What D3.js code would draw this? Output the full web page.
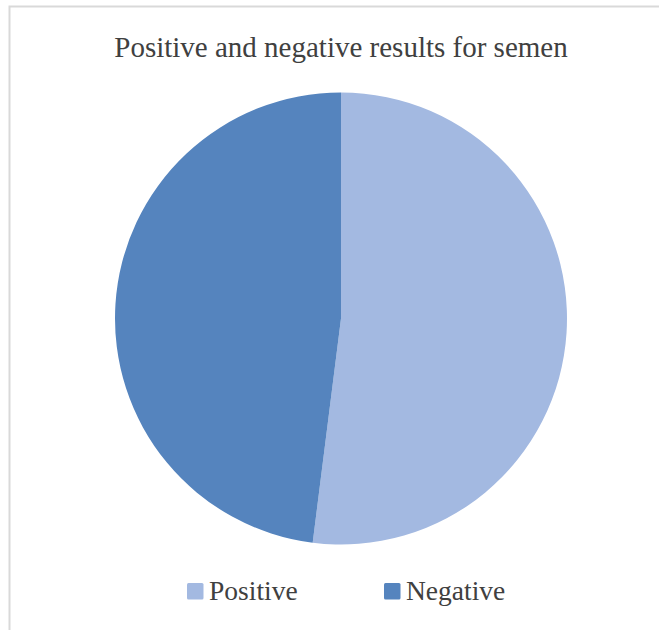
<!DOCTYPE html>
<html>
<head>
<meta charset="utf-8">
<script src="https://cdn.jsdelivr.net/npm/d3@7/dist/d3.min.js"></script>
<style>
  html, body { margin: 0; padding: 0; background: #fff; }
  svg { display: block; }
</style>
</head>
<body>
<script>
// Semen test outcomes
const categories = ["Positive", "Negative"];
const values = [52, 48];
const colors = ["#A3B9E1", "#5584BE"];
const title = "Positive and negative results for semen";

const W = 659, H = 630;
const svg = d3.select("body").append("svg")
  .attr("width", W).attr("height", H);

// chart area frame (right and bottom edges fall outside the view)
svg.append("rect")
  .attr("x", 9.5).attr("y", 6.5)
  .attr("width", W + 20).attr("height", H + 20)
  .attr("fill", "#fff")
  .attr("stroke", "#d9d9d9").attr("stroke-width", 2);

const fontFamily = "'Liberation Serif', 'Times New Roman', serif";

svg.append("text")
  .attr("x", 341).attr("y", 57)
  .attr("text-anchor", "middle")
  .attr("font-family", fontFamily)
  .attr("font-size", 29)
  .attr("fill", "#404040")
  .text(title);

const cx = 341, cy = 318.5, r = 226;
const color = d3.scaleOrdinal().domain(categories).range(colors);
const pie = d3.pie().sort(null).value(d => d.value);
const arc = d3.arc().innerRadius(0).outerRadius(r);
const data = categories.map((c, i) => ({ name: c, value: values[i] }));

svg.append("g")
  .attr("transform", `translate(${cx},${cy})`)
  .selectAll("path")
  .data(pie(data))
  .join("path")
  .attr("d", arc)
  .attr("fill", d => color(d.data.name));

// legend
const legendX = [187, 384];
const legend = svg.append("g")
  .selectAll("g")
  .data(categories)
  .join("g")
  .attr("transform", (d, i) => `translate(${legendX[i]},583)`);

legend.append("rect")
  .attr("width", 16.5).attr("height", 16.5)
  .attr("rx", 1.5)
  .attr("fill", d => color(d));

legend.append("text")
  .attr("x", 22).attr("y", 16.5)
  .attr("font-family", fontFamily)
  .attr("font-size", 27.5)
  .attr("fill", "#404040")
  .text(d => d);
</script>
</body>
</html>
